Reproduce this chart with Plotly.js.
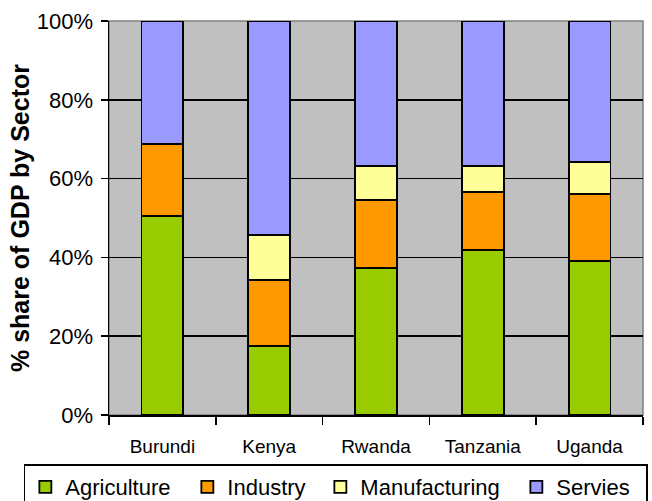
<!DOCTYPE html>
<html>
<head>
<meta charset="utf-8">
<script src="https://cdn.plot.ly/plotly-3.0.1.min.js"></script>
<style>
  html, body { margin: 0; padding: 0; overflow: hidden; background: #fff; }
  #chart { width: 652px; height: 535px; }
</style>
</head>
<body>
<div id="chart"></div>
<script>
// Share of GDP by sector, East African Community members (percent)
const countries = ["Burundi", "Kenya", "Rwanda", "Tanzania", "Uganda"];
const agriculture = [50.6, 17.5, 37.4, 41.8, 39.1];
const industry = [18.2, 16.7, 17.2, 14.9, 17.0];
const manufacturing = [null, 11.5, 8.7, 6.6, 8.2];
const services = [31.2, 54.3, 36.7, 36.7, 35.7];

const yTickVals = [0, 20, 40, 60, 80, 100];
const yTickText = ["0%", "20%", "40%", "60%", "80%", "100%"];

const FONT = "Liberation Sans, Arial, sans-serif";
const outline = { color: "#000000", width: 1.8 };

function sector(name, values, color, entryWidth) {
  return {
    type: "bar",
    name: name,
    x: countries,
    y: values,
    marker: { color: color, line: outline },
    legendwidth: entryWidth,
    hoverinfo: "x+y+name"
  };
}

const traces = [
  sector("Agriculture", agriculture, "#99CC00", 117),
  sector("Industry", industry, "#FF9900", 88),
  sector("Manufacturing", manufacturing, "#FFFF99", 151),
  sector("Servies", services, "#9999FF", 84)
];

const layout = {
  width: 652,
  height: 535,
  margin: { l: 109, r: 9, t: 21, b: 120, pad: 0 },
  paper_bgcolor: "#FFFFFF",
  plot_bgcolor: "#C0C0C0",
  barmode: "stack",
  bargap: 0.61,
  font: { family: FONT, color: "#000000" },
  showlegend: true,
  legend: {
    orientation: "h",
    traceorder: "normal",
    x: -0.16,
    xanchor: "left",
    y: -0.125,
    yanchor: "top",
    bgcolor: "#FFFFFF",
    bordercolor: "#000000",
    borderwidth: 1.8,
    font: { family: FONT, size: 22, color: "#000000" }
  },
  xaxis: {
    type: "category",
    showgrid: false,
    showline: true,
    linecolor: "#000000",
    linewidth: 1.5,
    ticks: "outside",
    tickson: "boundaries",
    ticklen: 8,
    tickwidth: 1.5,
    tickcolor: "#000000",
    ticklabelstandoff: 14,
    tickfont: { family: FONT, size: 19, color: "#000000" },
    fixedrange: true
  },
  yaxis: {
    range: [0, 100],
    tickvals: yTickVals,
    ticktext: yTickText,
    showgrid: true,
    gridcolor: "#000000",
    gridwidth: 1.5,
    zeroline: false,
    showline: true,
    linecolor: "#000000",
    linewidth: 1.5,
    ticks: "outside",
    ticklen: 7,
    tickwidth: 1.5,
    tickcolor: "#000000",
    ticklabelstandoff: 3,
    tickfont: { family: FONT, size: 22, color: "#000000" },
    title: {
      text: "<b>% share of GDP by Sector</b>",
      font: { family: FONT, size: 25, color: "#000000" },
      standoff: 0
    },
    fixedrange: true
  },
  shapes: [
    {
      // thin grey frame around the plotting area
      type: "rect",
      xref: "x domain",
      yref: "y domain",
      x0: 0, x1: 1, y0: 0, y1: 1,
      line: { color: "#808080", width: 1.5 },
      fillcolor: "rgba(0,0,0,0)",
      layer: "below"
    }
  ]
};

Plotly.newPlot("chart", traces, layout, { displayModeBar: false, staticPlot: true });
</script>
</body>
</html>
